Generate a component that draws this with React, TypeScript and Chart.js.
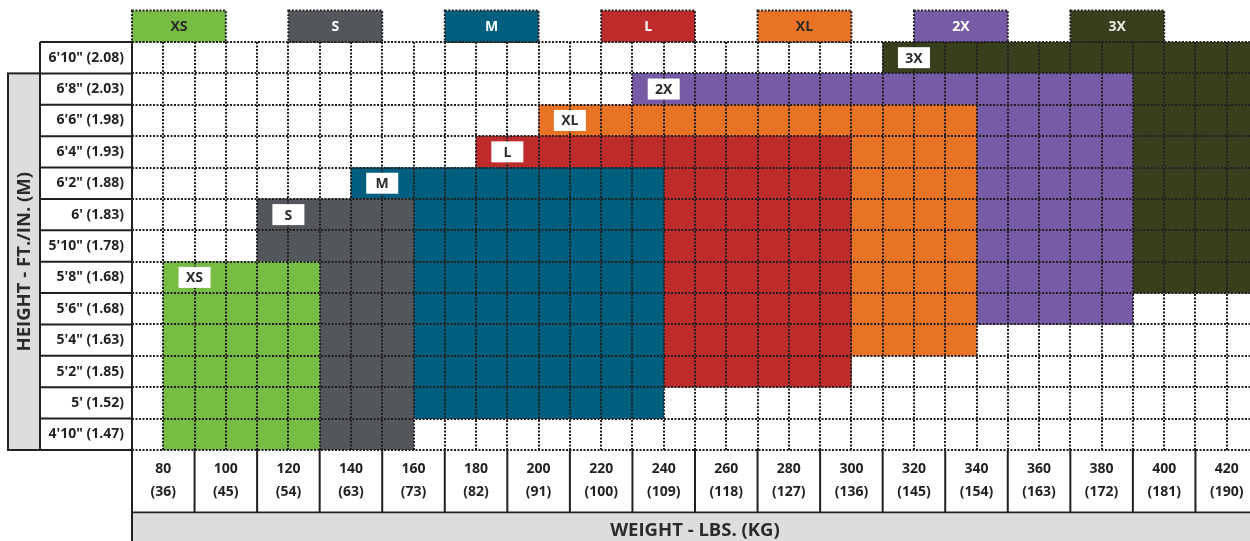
import React, { useEffect, useRef } from "react";
import { Chart, registerables } from "chart.js";

Chart.register(...registerables);

// ---- data ----
const heightFt = [`6'10"`, `6'8"`, `6'6"`, `6'4"`, `6'2"`, `6'`, `5'10"`, `5'8"`, `5'6"`, `5'4"`, `5'2"`, `5'`, `4'10"`];
const heightM = ["2.08", "2.03", "1.98", "1.93", "1.88", "1.83", "1.78", "1.68", "1.68", "1.63", "1.85", "1.52", "1.47"];
const weightLbs = [80, 100, 120, 140, 160, 180, 200, 220, 240, 260, 280, 300, 320, 340, 360, 380, 400, 420];
const weightKg = [36, 45, 54, 63, 73, 82, 91, 100, 109, 118, 127, 136, 145, 154, 163, 172, 181, 190];
const sizes = ["XS", "S", "M", "L", "XL", "2X", "3X"];
const sizeMinLbs = [80, 110, 140, 180, 200, 230, 310];
const sizeMaxLbs = [130, 160, 240, 300, 340, 390, 430];
const sizeShortest = [`4'10"`, `4'10"`, `5'`, `5'2"`, `5'4"`, `5'6"`, `5'8"`];
const sizeTallest = [`5'8"`, `6'`, `6'2"`, `6'4"`, `6'6"`, `6'8"`, `6'10"`];
const sizeColors = ["#77bc43", "#53575b", "#005f7f", "#bd2c2b", "#e87324", "#765ba6", "#373f1d"];
const sizeTextColors = ["#2b2b2b", "#ffffff", "#ffffff", "#ffffff", "#2b2b2b", "#ffffff", "#ecece4"];

const heightLabels = heightFt.map((f, i) => `${f} (${heightM[i]})`);

const FONT = "'Open Sans', 'Noto Sans', sans-serif";
const INK = "#231f20";
const GREY = "#dcdddf";

const decorPlugin = {
  id: "decor",
  afterDraw(chart: any) {
    const ctx = chart.ctx as CanvasRenderingContext2D;
    const xs = chart.scales.x;
    const ys = chart.scales.y;
    const area = chart.chartArea;
    const rowH = ys.getPixelForValue(1) - ys.getPixelForValue(0);
    const xMin = xs.min;
    const colW = xs.getPixelForValue(xMin + 10) - xs.getPixelForValue(xMin);
    ctx.save();

    // header legend boxes
    sizes.forEach((s, i) => {
      const x0 = xs.getPixelForValue(xMin + i * 50);
      const x1 = xs.getPixelForValue(xMin + i * 50 + 30);
      const y0 = area.top - rowH;
      const y1 = area.top;
      ctx.fillStyle = sizeColors[i];
      ctx.fillRect(x0, y0, x1 - x0, y1 - y0);
      ctx.setLineDash([2, 1.5]);
      ctx.lineWidth = 2;
      ctx.strokeStyle = INK;
      ctx.strokeRect(x0, y0, x1 - x0, y1 - y0);
      ctx.setLineDash([]);
      ctx.fillStyle = sizeTextColors[i];
      ctx.font = `bold 14px ${FONT}`;
      ctx.textAlign = "center";
      ctx.textBaseline = "middle";
      ctx.fillText(s, (x0 + x1) / 2, (y0 + y1) / 2 + 1);
    });

    // white label boxes
    sizes.forEach((s, i) => {
      const cx = xs.getPixelForValue(sizeMinLbs[i] + 10);
      const row = heightFt.indexOf(sizeTallest[i]);
      const cy = ys.getPixelForValue(row);
      const w = 32, h = 21;
      ctx.fillStyle = "#ffffff";
      ctx.fillRect(cx - w / 2, cy - h / 2, w, h);
      ctx.fillStyle = "#2b2b2b";
      ctx.font = `bold 14px ${FONT}`;
      ctx.textAlign = "center";
      ctx.textBaseline = "middle";
      ctx.fillText(s, cx, cy + 1);
    });

    // row label column borders
    const colLeft = area.left - 92;
    ctx.strokeStyle = INK;
    ctx.lineWidth = 2;
    ctx.beginPath();
    for (let r = 0; r <= heightFt.length; r++) {
      const yy = area.top + r * rowH;
      ctx.moveTo(colLeft, yy);
      ctx.lineTo(area.left, yy);
    }
    ctx.moveTo(colLeft, area.top);
    ctx.lineTo(colLeft, area.bottom);
    ctx.moveTo(area.left, area.top);
    ctx.lineTo(area.left, chart.height);
    ctx.stroke();

    // y title box
    const bx0 = 8, bx1 = colLeft;
    const by0 = area.top + rowH, by1 = area.bottom;
    ctx.fillStyle = GREY;
    ctx.fillRect(bx0, by0, bx1 - bx0, by1 - by0);
    ctx.strokeRect(bx0, by0, bx1 - bx0, by1 - by0);
    ctx.save();
    ctx.translate((bx0 + bx1) / 2 + 1, (by0 + by1) / 2);
    ctx.rotate(-Math.PI / 2);
    ctx.fillStyle = "#2b2b2b";
    ctx.font = `bold 18.5px ${FONT}`;
    ctx.textAlign = "center";
    ctx.textBaseline = "middle";
    ctx.fillText("HEIGHT - FT./IN. (M)", 0, 0);
    ctx.restore();

    // x label cells
    const cellBottom = area.bottom + 2 * colW;
    ctx.beginPath();
    weightLbs.forEach((v) => {
      const px = xs.getPixelForValue(v - 10);
      ctx.moveTo(px, area.bottom);
      ctx.lineTo(px, cellBottom);
    });
    const lastPx = xs.getPixelForValue(weightLbs[weightLbs.length - 1] + 10);
    ctx.moveTo(lastPx, area.bottom);
    ctx.lineTo(lastPx, cellBottom);
    ctx.moveTo(area.left, cellBottom);
    ctx.lineTo(area.right, cellBottom);
    ctx.stroke();

    // x title bar
    ctx.fillStyle = GREY;
    ctx.fillRect(area.left + 1, cellBottom + 1, area.right - area.left, chart.height - cellBottom);
    ctx.fillStyle = "#2b2b2b";
    ctx.font = `bold 18.5px ${FONT}`;
    ctx.textAlign = "center";
    ctx.textBaseline = "middle";
    ctx.fillText("WEIGHT - LBS. (KG)", (area.left + area.right) / 2, cellBottom + 18);

    ctx.restore();
  },
};

export default function App() {
  const ref = useRef<HTMLCanvasElement | null>(null);

  useEffect(() => {
    if (!ref.current) return;
    const datasets = sizes.map((s, i) => {
      const lo = heightFt.indexOf(sizeShortest[i]);
      const hi = heightFt.indexOf(sizeTallest[i]);
      return {
        label: s,
        data: heightFt.map((_, r) => (r <= lo && r >= hi ? [sizeMinLbs[i], sizeMaxLbs[i]] : null)),
        backgroundColor: sizeColors[i],
        borderWidth: 0,
        borderSkipped: false,
        barPercentage: 1,
        categoryPercentage: 1,
        grouped: false,
      };
    });

    const chart = new Chart(ref.current, {
      type: "bar",
      data: { labels: heightLabels, datasets: datasets as any },
      options: {
        indexAxis: "y",
        responsive: false,
        animation: false,
        devicePixelRatio: 1,
        layout: { padding: { left: 40, top: 42, right: 0, bottom: 0 } },
        plugins: { legend: { display: false }, tooltip: { enabled: false } },
        scales: {
          x: {
            type: "linear",
            position: "bottom",
            min: 70,
            max: 430,
            afterFit: (scale: any) => {
              scale.height = 91;
            },
            ticks: {
              stepSize: 10,
              autoSkip: false,
              maxRotation: 0,
              padding: 8,
              color: INK,
              font: { family: FONT, weight: "bold", size: 14, lineHeight: 1.6 },
              callback: (v: any) => {
                const idx = weightLbs.indexOf(Number(v));
                return idx >= 0 ? [String(weightLbs[idx]), `(${weightKg[idx]})`] : "";
              },
            },
            grid: { color: INK, lineWidth: 2, drawTicks: false, z: 1 },
            border: { display: false, dash: [2, 1.5] },
          },
          y: {
            type: "category",
            afterFit: (scale: any) => {
              scale.width = 92;
            },
            ticks: {
              padding: 8,
              color: INK,
              font: { family: FONT, weight: "bold", size: 14 },
            },
            grid: { color: INK, lineWidth: 2, drawTicks: false, offset: true, z: 1 },
            border: { display: false, dash: [2, 1.5] },
          },
        },
      },
      plugins: [decorPlugin],
    });
    return () => chart.destroy();
  }, []);

  return (
    <div style={{ position: "fixed", left: 0, top: 0, width: 1250, height: 541, overflow: "hidden", background: "#fff" }}>
      <canvas ref={ref} width={1266} height={541} style={{ display: "block", width: 1266, height: 541 }} />
    </div>
  );
}
